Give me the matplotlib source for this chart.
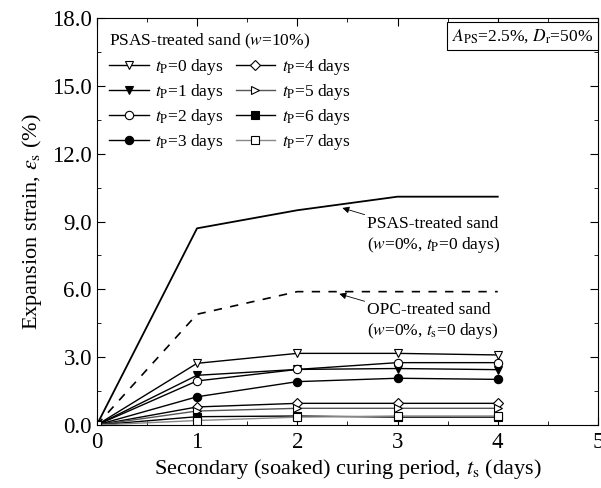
import matplotlib.pyplot as plt
from matplotlib.ticker import MultipleLocator
import numpy as np

plt.rcParams['font.family'] = ['Liberation Serif', 'DejaVu Serif']
plt.rcParams['mathtext.fontset'] = 'stix'

# data
ts = [0, 1, 2, 3, 4]
tp_labels = ['0', '1', '2', '3', '4', '5', '6', '7']
tp0 = [0, 2.73, 3.17, 3.17, 3.10]
tp1 = [0, 2.20, 2.46, 2.50, 2.45]
tp2 = [0, 1.95, 2.46, 2.76, 2.76]
tp3 = [0, 1.25, 1.92, 2.07, 2.02]
tp4 = [0, 0.80, 0.96, 0.96, 0.96]
tp5 = [0, 0.62, 0.74, 0.74, 0.74]
tp6 = [0, 0.37, 0.40, 0.35, 0.35]
tp7 = [0, 0.20, 0.35, 0.40, 0.40]
psas_w0 = [0, 8.7, 9.5, 10.1, 10.1]
opc_w0 = [0, 4.9, 5.9, 5.9, 5.9]

fig = plt.figure(figsize=(6.01, 4.88), dpi=100)
ax = fig.add_axes([0.161, 0.129, 0.834, 0.834])

ax.plot(ts, psas_w0, color='black', linewidth=1.3)
ax.plot(ts, opc_w0, color='black', linewidth=1.2, linestyle=(0, (5, 5)))

series = [tp0, tp1, tp2, tp3, tp4, tp5, tp6, tp7]
markers = ['v', 'v', 'o', 'o', 'D', '>', 's', 's']
faces = ['white', 'black', 'white', 'black', 'white', 'white', 'black', 'white']
lcolors = ['black', 'black', 'black', 'black', 'black', '#555555', 'black', '#888888']
msizes = [6, 6, 6, 6, 5, 6, 5.5, 5.5]
for y, m, fc, lc, lab, ms in zip(series, markers, faces, lcolors, tp_labels, msizes):
    ax.plot(ts, y, color=lc, linewidth=1.0, marker=m, markersize=ms,
            markerfacecolor=fc, markeredgecolor='black', markeredgewidth=0.8,
            label=r'$t_\mathrm{P}$=' + lab + ' days')

ax.set_xlim(0, 5)
ax.set_ylim(0, 18)
ax.set_xticks([0, 1, 2, 3, 4, 5])
ax.set_yticks([0, 3, 6, 9, 12, 15, 18])
ax.set_yticklabels(['0.0', '3.0', '6.0', '9.0', '12.0', '15.0', '18.0'])
ax.xaxis.set_minor_locator(MultipleLocator(0.5))
ax.yaxis.set_minor_locator(MultipleLocator(1.5))
ax.tick_params(which='both', direction='in', top=True, right=True, labelsize=16.5)
ax.tick_params(which='major', length=6)
ax.tick_params(which='minor', length=3)
ax.tick_params(axis='x', pad=5)

ax.set_xlabel(r'Secondary (soaked) curing period, $t_\mathrm{s}$ (days)', fontsize=16, labelpad=3)
ax.set_ylabel(r'Expansion strain, $\varepsilon_\mathrm{s}$ (%)', fontsize=16, labelpad=6)

leg = ax.legend(ncol=2, loc='upper left', bbox_to_anchor=(0.0, 0.995), frameon=False,
                fontsize=12.5, title=r'PSAS-treated sand ($w$=10%)', title_fontsize=12.5,
                handlelength=2.3, handletextpad=0.35, columnspacing=0.7, labelspacing=0.3,
                borderaxespad=0.3)
leg._legend_box.align = 'left'

ax.text(0.99, 0.955, r'$A_\mathrm{PS}$=2.5%, $D_\mathrm{r}$=50%', transform=ax.transAxes,
        ha='right', va='center', fontsize=12.5,
        bbox=dict(boxstyle='square,pad=0.3', facecolor='white', edgecolor='black', linewidth=0.8))

ax.annotate('PSAS-treated sand\n' + r'($w$=0%, $t_\mathrm{P}$=0 days)', xy=(2.45, 9.6),
            xytext=(2.7, 9.25), fontsize=12.5, va='top', ha='left',
            arrowprops=dict(arrowstyle='-|>', color='black', linewidth=0.6, mutation_scale=10,
                            shrinkA=0, shrinkB=0))
ax.annotate('OPC-treated sand\n' + r'($w$=0%, $t_\mathrm{s}$=0 days)', xy=(2.42, 5.8),
            xytext=(2.7, 5.45), fontsize=12.5, va='top', ha='left',
            arrowprops=dict(arrowstyle='-|>', color='black', linewidth=0.6, mutation_scale=10,
                            shrinkA=0, shrinkB=0))

fig.savefig('out.png', dpi=100)
